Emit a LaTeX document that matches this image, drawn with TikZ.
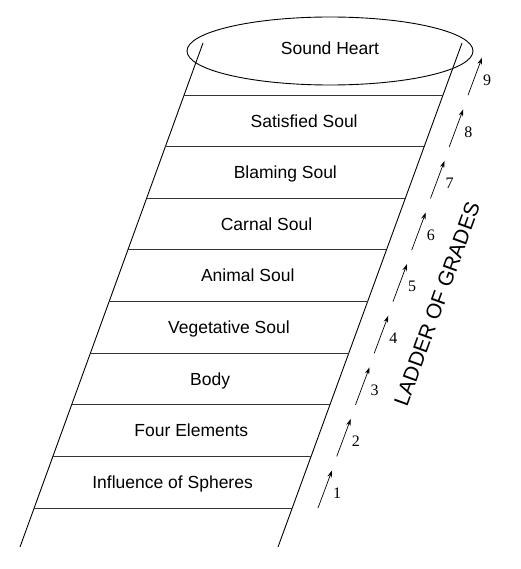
\documentclass[tikz,border=0pt]{standalone}
\usepackage{fontspec}
\setmainfont{Liberation Sans}
\newfontfamily\numfont{Liberation Serif}
\usetikzlibrary{arrows.meta,calc,shapes.geometric}
\begin{document}
\begin{tikzpicture}[x=1pt,y=-1pt,
  rail/.style={line width=0.9pt},
  rung/.style={line width=0.9pt, black!80},
  lbl/.style={font=\fontsize{17.5}{20}\selectfont, inner sep=0pt, text height=12.6pt, text depth=0pt},
  grade/.style={line width=0.7pt, -{Stealth[length=7pt,width=4.5pt]}},
  num/.style={font=\numfont\fontsize{16}{18}\selectfont, inner sep=0pt},
  heartshape/.style={draw, ellipse, line width=0.9pt, minimum width=286pt, minimum height=68pt, inner sep=0pt}]
\useasboundingbox (0,0) rectangle (520,569);
% rails
\coordinate (LT) at (203,43);
\coordinate (LB) at (20,547);
\coordinate (RT) at (462,43);
\coordinate (RB) at (278,547);
\draw[rail] (LT) -- (LB);
\draw[rail] (RT) -- (RB);
% rungs
\foreach \j in {0,...,8} {
  \pgfmathsetmacro{\t}{(52+51.625*\j)/504}
  \coordinate (L\j) at ($(LT)!\t!(LB)$);
  \coordinate (R\j) at ($(RT)!\t!(RB)$);
  \draw[rung] (L\j) -- (R\j);
}
% labels
\foreach \txt [count=\j from 0] in {Satisfied Soul, Blaming Soul, Carnal Soul, Animal Soul, Vegetative Soul, Body, Four Elements, Influence of Spheres} {
  \pgfmathtruncatemacro{\jj}{\j+1}
  \node[lbl] (band\j) at ($(L\j)!0.5!(R\jj)$) {\txt};
}
% heart
\node[heartshape] (heart) at (330,51) {};
\node[lbl] (heartlbl) at (330,48) {Sound Heart};
% grade arrows
\foreach \k in {1,...,9} {
  \coordinate (gs\k) at ({318+18.75*(\k-1)},{508-51.6*(\k-1)});
  \coordinate (ge\k) at ($(gs\k)+(14,-37.5)$);
  \draw[grade] (gs\k) -- (ge\k);
  \node[num] (n\k) at ($(gs\k)+(19,-15)$) {\k};
}
\node[font=\fontsize{21}{24}\selectfont, rotate=70, inner sep=0pt] (ladder) at (437,304) {LADDER OF GRADES};
\end{tikzpicture}
\end{document}
